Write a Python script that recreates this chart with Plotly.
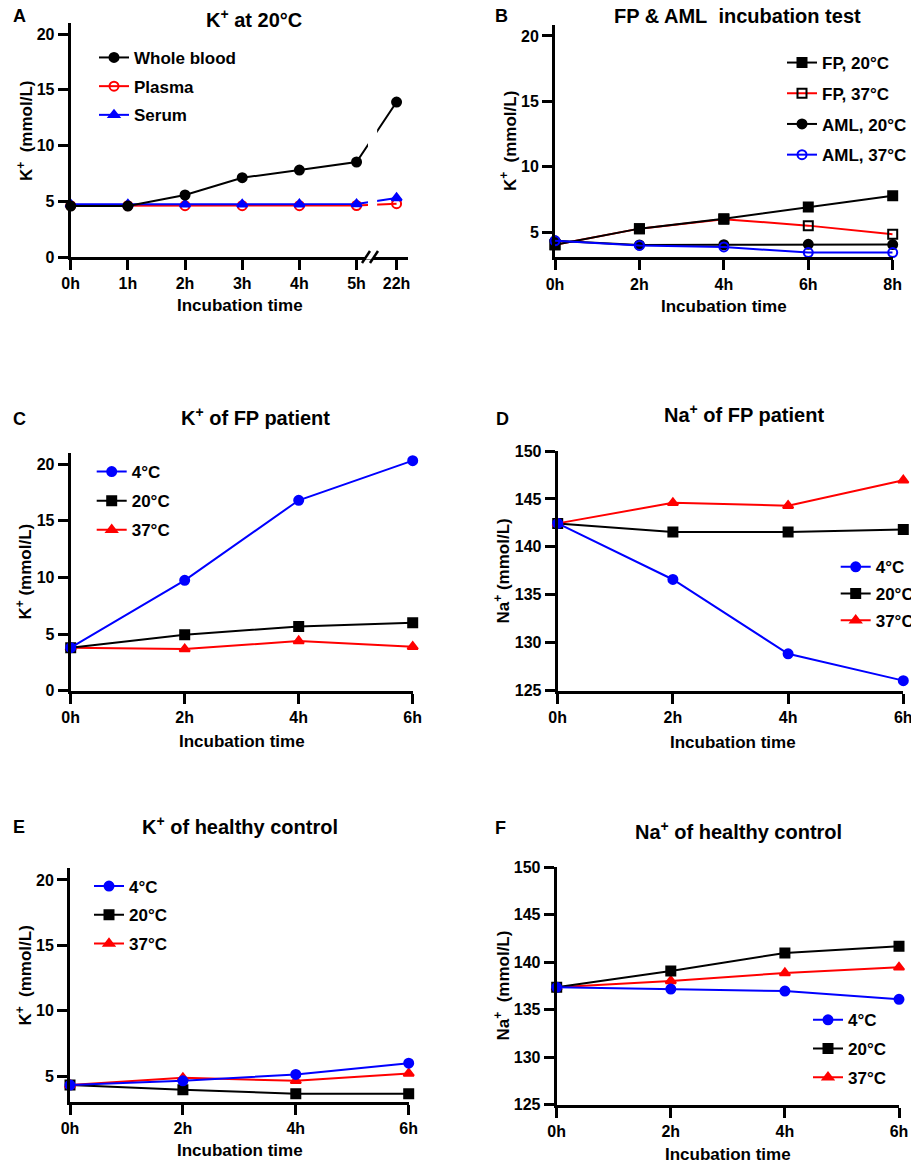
import plotly.graph_objects as go

W, H = 919, 1163
FONT = "Liberation Sans, Arial, sans-serif"
BLACK, RED, BLUE = "#000000", "#FF0000", "#0000FF"

# ---------------- data ----------------
# Panel A: K+ at 20°C
a_hours = [0, 1, 2, 3, 4, 5, 22]
a_labels = ["0h", "1h", "2h", "3h", "4h", "5h", "22h"]
a_whole_blood = [4.57, 4.57, 5.56, 7.11, 7.80, 8.52, 13.90]
a_plasma = [4.60, 4.60, 4.60, 4.60, 4.60, 4.62, 4.78]
a_serum = [4.72, 4.72, 4.72, 4.72, 4.74, 4.75, 5.30]

# Panel B: FP & AML incubation test
b_hours = [0, 2, 4, 6, 8]
b_labels = ["0h", "2h", "4h", "6h", "8h"]
b_fp20 = [4.05, 5.28, 6.04, 6.94, 7.80]
b_fp37 = [4.05, 5.28, 6.00, 5.51, 4.85]
b_aml20 = [4.35, 4.03, 4.05, 4.08, 4.06]
b_aml37 = [4.35, 4.00, 3.88, 3.45, 3.45]

# Panels C-F: 0h, 2h, 4h, 6h
t_hours = [0, 2, 4, 6]
t_labels = ["0h", "2h", "4h", "6h"]
c_4 = [3.80, 9.75, 16.82, 20.32]
c_20 = [3.80, 4.95, 5.68, 6.01]
c_37 = [3.80, 3.68, 4.39, 3.89]

d_4 = [142.45, 136.6, 128.85, 126.05]
d_20 = [142.45, 141.55, 141.55, 141.8]
d_37 = [142.45, 144.6, 144.3, 146.95]

e_4 = [4.31, 4.64, 5.13, 5.99]
e_20 = [4.31, 3.95, 3.65, 3.65]
e_37 = [4.31, 4.87, 4.64, 5.20]

f_4 = [137.36, 137.18, 136.97, 136.10]
f_20 = [137.36, 139.08, 140.98, 141.68]
f_37 = [137.36, 138.03, 138.87, 139.47]

k_ticks = [0, 5, 10, 15, 20]
k_ticks_b = [5, 10, 15, 20]
na_ticks = [125, 130, 135, 140, 145, 150]

# axis break position for the 22h point (panel A)
BREAK_POS = 5.7

# page offset compensation (pixels): the page body adds an 8px margin
OX, OY = 8, 8


def a_pos(h):
    return h if h <= 5 else BREAK_POS


def fx(px):
    return (px - OX) / W


def fy(py):
    return 1 - (py - OY) / H


fig = go.Figure()


def add(xs, ys, name, color, symbol, axis, legend, rank, mcolor=None, size=9):
    mc = mcolor or color
    fig.add_trace(go.Scatter(
        x=xs, y=ys, name=name, mode="lines+markers",
        line=dict(color=color, width=2),
        marker=dict(color=mc, symbol=symbol, size=size,
                    line=dict(color=mc, width=2)),
        xaxis="x" + axis, yaxis="y" + axis, legend=legend,
        legendgroup=legend + name, legendrank=rank, cliponaxis=False,
    ))


ax = [a_pos(h) for h in a_hours]
add(ax, a_plasma, "Plasma", RED, "circle-open", "", "legend", 2)
add(ax, a_serum, "Serum", BLUE, "triangle-up", "", "legend", 3)
add(ax, a_whole_blood, "Whole blood", BLACK, "circle", "", "legend", 1)

add(b_hours, b_fp37, "FP, 37°C", RED, "square-open", "2", "legend2", 2,
    mcolor=BLACK)
add(b_hours, b_fp20, "FP, 20°C", BLACK, "square", "2", "legend2", 1)
add(b_hours, b_aml20, "AML, 20°C", BLACK, "circle", "2", "legend2", 3)
add(b_hours, b_aml37, "AML, 37°C", BLUE, "circle-open", "2", "legend2", 4)

for ys, name, color, sym, rank in [(c_37, "37°C", RED, "triangle-up", 3),
                                   (c_20, "20°C", BLACK, "square", 2),
                                   (c_4, "4°C", BLUE, "circle", 1)]:
    add(t_hours, ys, name, color, sym, "3", "legend3", rank)
for ys, name, color, sym, rank in [(d_20, "20°C", BLACK, "square", 2),
                                   (d_37, "37°C", RED, "triangle-up", 3),
                                   (d_4, "4°C", BLUE, "circle", 1)]:
    add(t_hours, ys, name, color, sym, "4", "legend4", rank)
for ys, name, color, sym, rank in [(e_20, "20°C", BLACK, "square", 2),
                                   (e_37, "37°C", RED, "triangle-up", 3),
                                   (e_4, "4°C", BLUE, "circle", 1)]:
    add(t_hours, ys, name, color, sym, "5", "legend5", rank)
for ys, name, color, sym, rank in [(f_37, "37°C", RED, "triangle-up", 3),
                                   (f_20, "20°C", BLACK, "square", 2),
                                   (f_4, "4°C", BLUE, "circle", 1)]:
    add(t_hours, ys, name, color, sym, "6", "legend6", rank)

tickfont = dict(family=FONT, size=16, color=BLACK, weight="bold")


def xaxis(dom, rng, vals, text, anchor):
    return dict(domain=[fx(dom[0]), fx(dom[1])], range=rng, tickvals=vals,
                ticktext=text, anchor=anchor, showgrid=False, zeroline=False,
                showline=True, linecolor=BLACK, linewidth=3, ticks="outside",
                ticklen=10, tickwidth=3, tickcolor=BLACK, tickfont=tickfont,
                fixedrange=True, automargin=False)


def yaxis(dom, rng, vals, anchor):
    return dict(domain=[fy(dom[1]), fy(dom[0])], range=rng, tickvals=vals,
                anchor=anchor, showgrid=False, zeroline=False,
                showline=True, linecolor=BLACK, linewidth=3, ticks="outside",
                ticklen=10, tickwidth=3, tickcolor=BLACK, tickfont=tickfont,
                fixedrange=True, automargin=False)


layout = dict(
    width=W, height=H,
    margin=dict(l=0, r=0, t=0, b=0, pad=0, autoexpand=False),
    paper_bgcolor="white", plot_bgcolor="white",
    font=dict(family=FONT, color=BLACK),
    xaxis=xaxis((70.7, 408), [0, 5.9], ax, a_labels, "y"),
    yaxis=yaxis((23.3, 257), [0, 20.96], k_ticks, "x"),
    xaxis2=xaxis((555, 892.7), [0, 8], b_hours, b_labels, "y2"),
    yaxis2=yaxis((25, 257.3), [3.09, 20.84], k_ticks_b, "x2"),
    xaxis3=xaxis((70.7, 412.7), [0, 6], t_hours, t_labels, "y3"),
    yaxis3=yaxis((453.3, 690.7), [0, 20.97], k_ticks, "x3"),
    xaxis4=xaxis((557.7, 903.3), [0, 6], t_hours, t_labels, "y4"),
    yaxis4=yaxis((451, 690.7), [125, 150], na_ticks, "x4"),
    xaxis5=xaxis((70, 408.7), [0, 6], t_hours, t_labels, "y5"),
    yaxis5=yaxis((867.7, 1101.7), [3.04, 20.94], k_ticks_b, "x5"),
    xaxis6=xaxis((556.7, 899), [0, 6], t_hours, t_labels, "y6"),
    yaxis6=yaxis((867.3, 1104.7), [125, 150], na_ticks, "x6"),
)

legfont = dict(family=FONT, size=17, color=BLACK, weight="bold")


def legend(px, py, gap):
    return dict(x=fx(px), y=fy(py), xanchor="left", yanchor="top",
                bgcolor="rgba(0,0,0,0)", borderwidth=0, font=legfont,
                traceorder="grouped", tracegroupgap=gap,
                itemclick=False, itemdoubleclick=False)


layout["legend"] = legend(94, 39.9, 3.6)
layout["legend2"] = legend(782, 45, 5.6)
layout["legend3"] = legend(91.7, 454, 4)
layout["legend4"] = legend(835.7, 549.3, 1.6)
layout["legend5"] = legend(89, 868.5, 3.6)
layout["legend6"] = legend(808, 1002.3, 3.6)
layout["showlegend"] = True
fig.update_layout(**layout)

ann = []


def text(x, y, s, size, angle=0):
    ann.append(dict(x=fx(x), y=fy(y), xref="paper", yref="paper", text=s,
                    showarrow=False, xanchor="center", yanchor="middle",
                    textangle=angle,
                    font=dict(family=FONT, size=size, color=BLACK,
                              weight="bold")))


# panel letters
for lx, ly, s in [(19.3, 16.3, "A"), (501.7, 16.3, "B"), (19.7, 418.8, "C"),
                  (502, 419, "D"), (19, 827.3, "E"), (500.5, 828, "F")]:
    text(lx, ly, s, 18)

# panel titles
text(253.5, 18, "K<sup>+</sup> at 20°C", 20)
text(737, 16.5, "FP &amp; AML\u00a0\u00a0incubation test", 20)
text(255.5, 416, "K<sup>+</sup> of FP patient", 20)
text(744, 413.5, "Na<sup>+</sup> of FP patient", 20)
text(239.5, 825, "K<sup>+</sup> of healthy control", 20)
text(738.7, 831, "Na<sup>+</sup> of healthy control", 20)

# x-axis titles
for cx, cy in [(240, 305.8), (724, 306.7), (242, 741.5), (733, 742),
               (240, 1150.5), (727.5, 1154)]:
    text(cx, cy, "Incubation time", 17)

# y-axis titles
text(25, 131, "K<sup>+</sup>\u00a0\u00a0(mmol/L)", 17, -90)
text(508.3, 140.8, "K<sup>+</sup>\u00a0\u00a0(mmol/L)", 17, -90)
text(23.8, 571.7, "K<sup>+</sup> (mmol/L)", 17, -90)
text(501.7, 570.8, "Na<sup>+</sup> (mmol/L)", 17, -90)
text(23.8, 975.8, "K<sup>+</sup>\u00a0\u00a0(mmol/L)", 17, -90)
text(501.7, 985.8, "Na<sup>+</sup>\u00a0\u00a0(mmol/L)", 17, -90)

fig.update_layout(annotations=ann)

# axis break on panel A
fig.add_shape(type="rect", xref="x", yref="y", x0=5.2, x1=5.36, y0=1, y1=20.9,
              fillcolor="white", line=dict(width=0), layer="above")
fig.add_shape(type="rect", xref="paper", yref="paper", x0=fx(366), x1=fx(373),
              y0=fy(259.5), y1=fy(254.5), fillcolor="white",
              line=dict(width=0), layer="above")
for x0 in (362, 370):
    fig.add_shape(type="line", xref="paper", yref="paper",
                  x0=fx(x0), y0=fy(263), x1=fx(x0 + 8), y1=fy(251),
                  line=dict(color=BLACK, width=2.5), layer="above")

fig.write_html("out.html")
